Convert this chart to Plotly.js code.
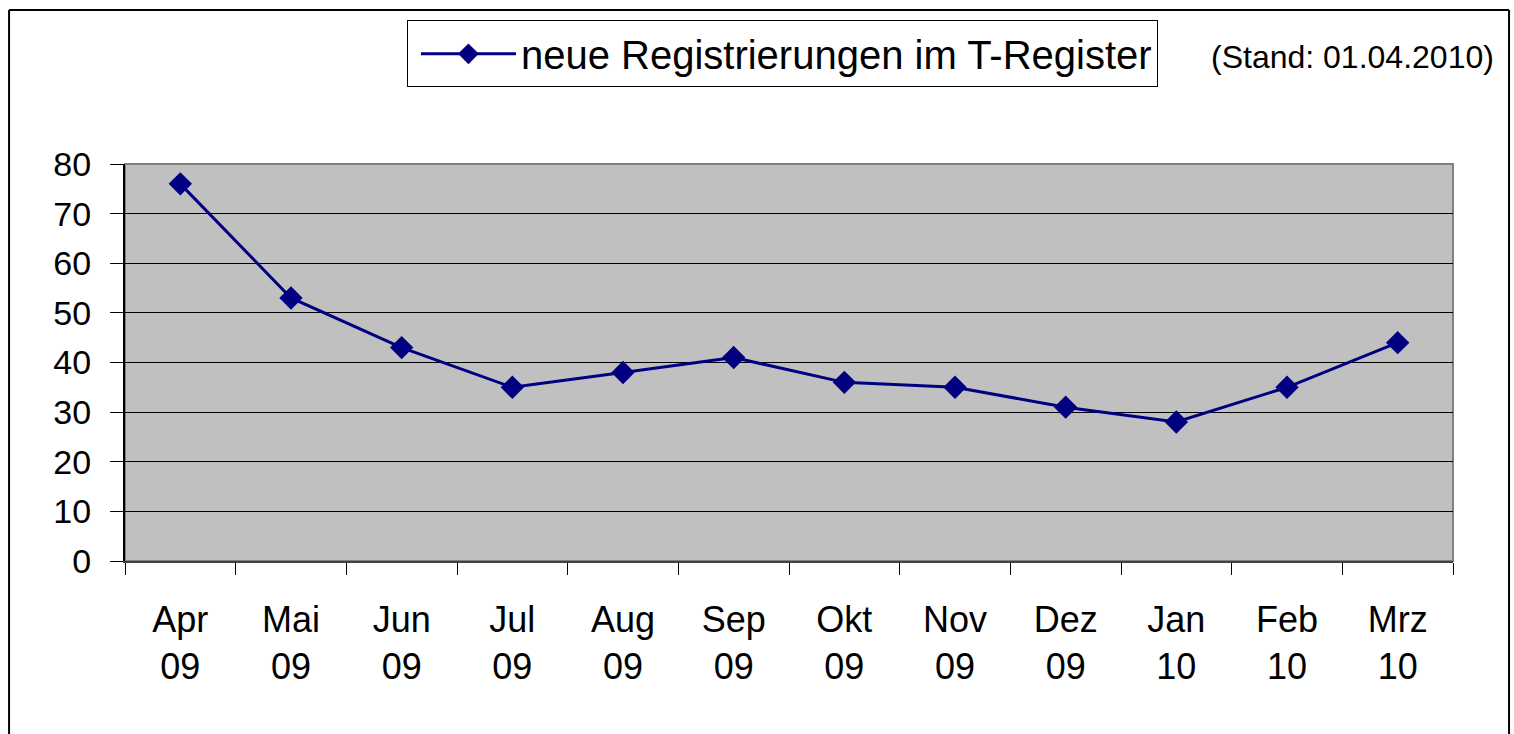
<!DOCTYPE html>
<html>
<head>
<meta charset="utf-8">
<script src="https://cdn.plot.ly/plotly-3.0.1.min.js"></script>
<style>html,body{margin:0;padding:0;background:#fff;}#chart{width:1514px;height:734px;}</style>
</head>
<body>
<div id="chart"></div>
<script>
const months = ["Apr<br>09","Mai<br>09","Jun<br>09","Jul<br>09","Aug<br>09","Sep<br>09","Okt<br>09","Nov<br>09","Dez<br>09","Jan<br>10","Feb<br>10","Mrz<br>10"];
const registrations = [76, 53, 43, 35, 38, 41, 36, 35, 31, 28, 35, 44];
const seriesName = "neue Registrierungen im T-Register";
const noteText = "(Stand: 01.04.2010)";
const yTicks = [0, 10, 20, 30, 40, 50, 60, 70, 80];

const FONT = "Liberation Sans, Arial, sans-serif";

const trace = {
  x: months,
  y: registrations,
  type: "scatter",
  mode: "lines+markers",
  name: seriesName,
  line: {color: "#000080", width: 3},
  marker: {symbol: "diamond", size: 18, color: "#000080"}
};

const layout = {
  width: 1514, height: 734,
  margin: {l: 125, r: 61, t: 164, b: 173},
  paper_bgcolor: "#ffffff",
  plot_bgcolor: "#c0c0c0",
  font: {family: FONT, color: "#000"},
  showlegend: true,
  legend: {
    x: 0.2123, y: 1.362, xanchor: "left", yanchor: "top",
    bgcolor: "#ffffff", bordercolor: "#000", borderwidth: 1,
    font: {family: FONT, size: 40, color: "#000"},
    itemwidth: 95,
    indentation: 8
  },
  xaxis: {
    type: "category",
    range: [-0.5, months.length - 0.5],
    tickson: "boundaries",
    ticks: "outside", ticklen: 12, tickcolor: "#000", tickwidth: 1,
    showgrid: false,
    showline: true, linecolor: "#404040", linewidth: 2,
    tickfont: {family: FONT, size: 36, color: "#000"},
    ticklabelstandoff: 26,
    fixedrange: true
  },
  yaxis: {
    range: [0, 80],
    tickvals: yTicks,
    ticks: "outside", ticklen: 13, tickcolor: "#000", tickwidth: 1,
    showgrid: true, gridcolor: "#000", gridwidth: 1,
    zeroline: false,
    showline: true, linecolor: "#000", linewidth: 2,
    tickfont: {family: FONT, size: 34, color: "#000"},
    ticklabelstandoff: 12,
    fixedrange: true
  },
  shapes: [
    {type: "rect", xref: "paper", yref: "paper", x0: 0, x1: 1, y0: 0, y1: 1,
     line: {color: "#808080", width: 2}, layer: "below"},
    {type: "line", xref: "paper", yref: "paper", x0: -0.0873, x1: 1.0422, y0: 1.388, y1: 1.388,
     line: {color: "#000", width: 2}},
    {type: "line", xref: "paper", yref: "paper", x0: -0.0873, x1: -0.0873, y0: -0.6, y1: 1.388,
     line: {color: "#000", width: 2}},
    {type: "line", xref: "paper", yref: "paper", x0: 1.0422, x1: 1.0422, y0: -0.6, y1: 1.388,
     line: {color: "#000", width: 2}}
  ],
  annotations: [
    {text: noteText, xref: "paper", yref: "paper", x: 0.9245, y: 1.2695,
     xanchor: "center", yanchor: "middle", showarrow: false,
     font: {family: FONT, size: 32, color: "#000"}}
  ]
};

Plotly.newPlot("chart", [trace], layout, {displayModeBar: false, staticPlot: true});
</script>
</body>
</html>
